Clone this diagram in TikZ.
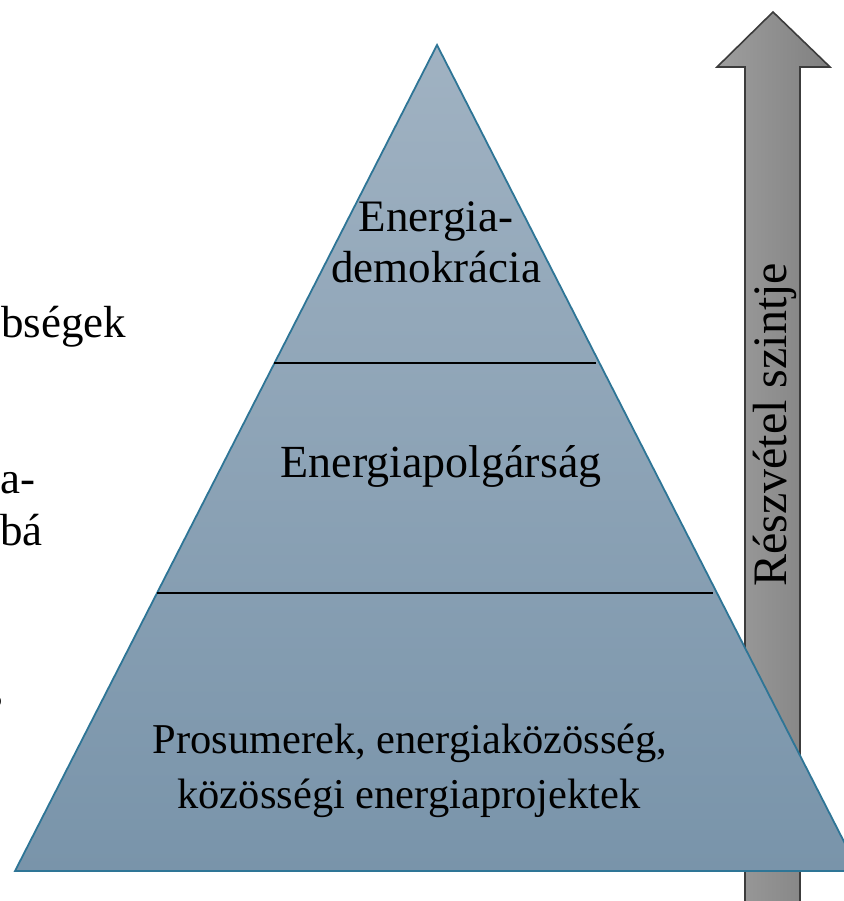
\documentclass[tikz,border=0pt]{standalone}
\usepackage{fontspec}
\setmainfont{Liberation Serif}
\definecolor{triTop}{RGB}{160,178,194}
\definecolor{triBot}{RGB}{121,148,170}
\definecolor{triEdge}{RGB}{46,117,150}
\definecolor{arrL}{RGB}{158,158,158}
\definecolor{arrR}{RGB}{128,128,128}
\definecolor{arrEdge}{RGB}{60,60,60}
\begin{document}
\begin{tikzpicture}[x=1pt,y=-1pt,
  lbl/.style={font=\fontsize{45}{52}\selectfont, inner sep=0pt, anchor=base},
  lblsmall/.style={font=\fontsize{42.5}{50}\selectfont, inner sep=0pt, anchor=base},
  side/.style={font=\fontsize{45}{52}\selectfont, inner sep=0pt, anchor=base west},
  divider/.style={draw=black, line width=2.2pt},
  pyramid/.style={draw=triEdge, line width=1.8pt, top color=triTop, bottom color=triBot, line join=miter},
  bigarrow/.style={draw=arrEdge, line width=1.6pt, left color=arrL, right color=arrR, line join=miter}]
\useasboundingbox (0,0) rectangle (843,901);

% arrow (behind the pyramid)
\path[bigarrow] (745,910) -- (745,67) -- (717,67) -- (773,12) -- (830,67) -- (800,67) -- (800,910) -- cycle;
\node[font=\fontsize{48}{54}\selectfont, inner sep=0pt, anchor=base, rotate=90] (arrtext) at (786,425) {Részvétel szintje};

% pyramid
\coordinate (apex) at (437,45);
\coordinate (bl) at (15,871);
\coordinate (br) at (859,871);
\path[pyramid] (apex) -- (bl) -- (br) -- cycle;

% dividers
\draw[divider] (274,363) -- (596,363);
\draw[divider] (157,593) -- (713,593);

% labels
\node[lbl] (ed1) at (436,232) {Energia-};
\node[lbl] (ed2) at (436,282) {demokrácia};
\node[lbl, font=\fontsize{46}{52}\selectfont] (ep) at (441,477) {Energiapolgárság};
\node[lblsmall] (pr1) at (410,753) {Prosumerek, energiaközösség,};
\node[lblsmall] (pr2) at (409,808) {közösségi energiaprojektek};

% clipped left texts
\node[side] (l1) at (1,337) {bségek};
\node[side] (l2) at (0,493) {a-};
\node[side] (l3) at (0,545) {bá};
\node[lbl, anchor=base east] (l4) at (3,707) {s};
\end{tikzpicture}
\end{document}
